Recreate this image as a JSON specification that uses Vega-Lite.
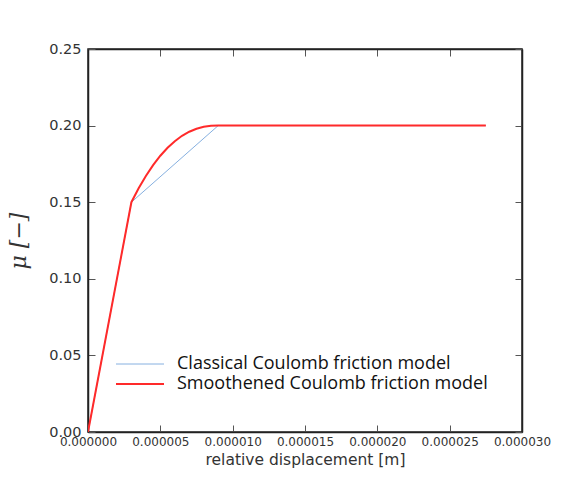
{
  "$schema": "https://vega.github.io/schema/vega-lite/v6.json",
  "width": 434,
  "height": 383,
  "autosize": "none",
  "padding": {"left": 88, "top": 49, "right": 42, "bottom": 45},
  "background": "white",
  "config": {
    "view": {"stroke": "#222", "strokeWidth": 1.5},
    "axis": {
      "labelFont": "DejaVu Sans",
      "titleFont": "DejaVu Sans",
      "labelColor": "#333",
      "titleColor": "#333",
      "domainColor": "#222",
      "domainWidth": 1.5,
      "tickColor": "#555",
      "tickWidth": 1,
      "grid": false
    }
  },
  "data": {
    "values": [
      {"series": "Classical Coulomb friction model", "x": 0, "mu": 0},
      {"series": "Classical Coulomb friction model", "x": 0.000003, "mu": 0.15},
      {"series": "Classical Coulomb friction model", "x": 0.000009, "mu": 0.2},
      {"series": "Classical Coulomb friction model", "x": 0.0000275, "mu": 0.2},
      {"series": "Smoothened Coulomb friction model", "x": 0, "mu": 0},
      {"series": "Smoothened Coulomb friction model", "x": 0.000003, "mu": 0.15},
      {"series": "Smoothened Coulomb friction model", "x": 0.0000035, "mu": 0.15907},
      {"series": "Smoothened Coulomb friction model", "x": 0.000004, "mu": 0.16712},
      {"series": "Smoothened Coulomb friction model", "x": 0.0000045, "mu": 0.1742},
      {"series": "Smoothened Coulomb friction model", "x": 0.000005, "mu": 0.18033},
      {"series": "Smoothened Coulomb friction model", "x": 0.0000055, "mu": 0.18553},
      {"series": "Smoothened Coulomb friction model", "x": 0.000006, "mu": 0.18985},
      {"series": "Smoothened Coulomb friction model", "x": 0.0000065, "mu": 0.19333},
      {"series": "Smoothened Coulomb friction model", "x": 0.000007, "mu": 0.196},
      {"series": "Smoothened Coulomb friction model", "x": 0.0000075, "mu": 0.19794},
      {"series": "Smoothened Coulomb friction model", "x": 0.000008, "mu": 0.19919},
      {"series": "Smoothened Coulomb friction model", "x": 0.0000085, "mu": 0.19983},
      {"series": "Smoothened Coulomb friction model", "x": 0.000009, "mu": 0.2},
      {"series": "Smoothened Coulomb friction model", "x": 0.0000275, "mu": 0.2}
    ]
  },
  "layer": [
    {
      "mark": {"type": "line", "clip": true},
      "encoding": {
        "x": {
          "field": "x", "type": "quantitative",
          "scale": {"domain": [0, 0.00003], "nice": false, "zero": false},
          "axis": {
            "title": "relative displacement [m]",
            "values": [0, 0.000005, 0.00001, 0.000015, 0.00002, 0.000025, 0.00003],
            "format": ".6f",
            "labelFontSize": 12,
            "titleFontSize": 15.5,
            "titleFontWeight": "normal",
            "tickSize": -7,
            "labelPadding": 11,
            "titlePadding": 5,
            "labelFlush": false
          }
        },
        "y": {
          "field": "mu", "type": "quantitative",
          "scale": {"domain": [0, 0.25], "nice": false},
          "axis": {
            "title": "μ [−]",
            "values": [0, 0.05, 0.1, 0.15, 0.2, 0.25],
            "format": ".2f",
            "labelFontSize": 14.5,
            "titleFontSize": 22,
            "titleFontWeight": "normal",
            "titleFontStyle": "italic",
            "titleFont": "DejaVu Serif",
            "tickSize": -7,
            "labelPadding": 14,
            "titlePadding": 18,
            "labelFlush": false
          }
        },
        "color": {
          "field": "series", "type": "nominal",
          "scale": {
            "domain": ["Classical Coulomb friction model", "Smoothened Coulomb friction model"],
            "range": ["#86b0e0", "#ff2a2a"]
          },
          "legend": {
            "title": null,
            "orient": "none",
            "legendX": 27,
            "legendY": 305,
            "symbolType": "stroke",
            "symbolSize": 2304,
            "symbolStrokeWidth": 1.5,
            "clipHeight": 20,
            "labelFont": "Open Sans",
            "labelFontSize": 18,
            "labelColor": "#111",
            "labelOffset": 12,
            "rowPadding": 0,
            "labelLimit": 400
          }
        },
        "strokeWidth": {
          "field": "series", "type": "nominal",
          "scale": {
            "domain": ["Classical Coulomb friction model", "Smoothened Coulomb friction model"],
            "range": [1, 2]
          },
          "legend": null
        }
      }
    },
    {
      "mark": {"type": "point", "opacity": 0},
      "encoding": {
        "x": {
          "field": "x", "type": "quantitative",
          "scale": {"domain": [0, 0.00003], "nice": false, "zero": false},
          "axis": {
            "orient": "top", "title": null, "labels": false,
            "values": [0, 0.000005, 0.00001, 0.000015, 0.00002, 0.000025, 0.00003],
            "tickSize": -7
          }
        },
        "y": {
          "field": "mu", "type": "quantitative",
          "scale": {"domain": [0, 0.25], "nice": false},
          "axis": {
            "orient": "right", "title": null, "labels": false,
            "values": [0, 0.05, 0.1, 0.15, 0.2, 0.25],
            "tickSize": -7
          }
        }
      }
    }
  ],
  "resolve": {"axis": {"x": "independent", "y": "independent"}}
}
